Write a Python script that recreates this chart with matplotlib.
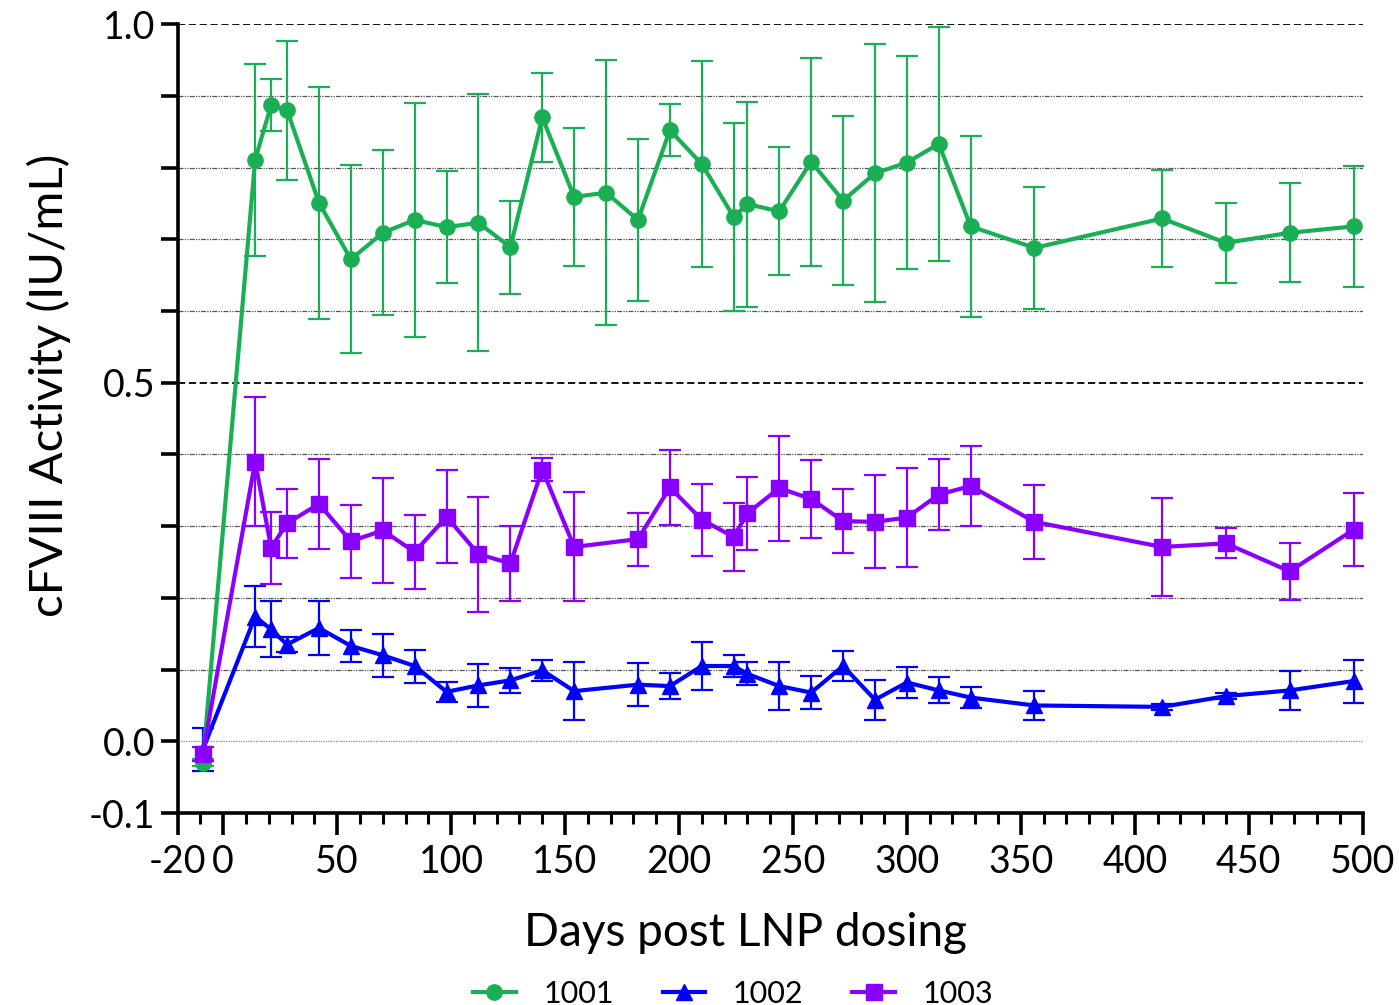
import matplotlib.pyplot as plt
from matplotlib.ticker import MultipleLocator, FixedLocator

plt.rcParams['font.family'] = ['Lato', 'DejaVu Sans']
plt.rcParams['axes.unicode_minus'] = False

# 1001 has one more visit (day 168) than the other two dogs
days_1001 = [-9, 14, 21, 28, 42, 56, 70, 84, 98, 112, 126, 140, 154, 168, 182, 196,
             210, 224, 230, 244, 258, 272, 286, 300, 314, 328, 356, 412, 440, 468, 496]
days_other = [-9, 14, 21, 28, 42, 56, 70, 84, 98, 112, 126, 140, 154, 182, 196,
              210, 224, 230, 244, 258, 272, 286, 300, 314, 328, 356, 412, 440, 468, 496]

mean_1001 = [-0.030, 0.811, 0.887, 0.880, 0.751, 0.672, 0.709, 0.727, 0.717, 0.723, 0.689,
             0.870, 0.759, 0.765, 0.727, 0.852, 0.805, 0.731, 0.749, 0.739, 0.808, 0.754,
             0.792, 0.807, 0.833, 0.718, 0.688, 0.729, 0.695, 0.709, 0.718]
sd_1001 = [0.005, 0.134, 0.036, 0.097, 0.162, 0.131, 0.115, 0.163, 0.078, 0.179, 0.065,
           0.062, 0.096, 0.185, 0.113, 0.036, 0.143, 0.131, 0.143, 0.089, 0.145, 0.118,
           0.180, 0.148, 0.163, 0.126, 0.085, 0.068, 0.056, 0.069, 0.084]

mean_1002 = [-0.012, 0.174, 0.156, 0.135, 0.158, 0.133, 0.120, 0.105, 0.069, 0.078, 0.085,
             0.099, 0.070, 0.079, 0.077, 0.105, 0.105, 0.094, 0.077, 0.068, 0.105, 0.058,
             0.082, 0.071, 0.061, 0.050, 0.048, 0.063, 0.071, 0.084]
sd_1002 = [0.030, 0.043, 0.039, 0.010, 0.038, 0.022, 0.030, 0.023, 0.014, 0.030, 0.017,
           0.015, 0.040, 0.030, 0.018, 0.034, 0.016, 0.016, 0.034, 0.023, 0.021, 0.028,
           0.021, 0.018, 0.015, 0.020, 0.004, 0.004, 0.027, 0.030]

mean_1003 = [-0.018, 0.390, 0.270, 0.304, 0.331, 0.279, 0.294, 0.264, 0.313, 0.261, 0.248,
             0.379, 0.271, 0.282, 0.354, 0.309, 0.285, 0.318, 0.353, 0.338, 0.307, 0.306,
             0.312, 0.344, 0.356, 0.306, 0.271, 0.276, 0.237, 0.295]
sd_1003 = [0.010, 0.090, 0.050, 0.048, 0.063, 0.051, 0.073, 0.051, 0.065, 0.080, 0.052,
           0.016, 0.076, 0.037, 0.052, 0.050, 0.047, 0.051, 0.073, 0.054, 0.045, 0.065,
           0.069, 0.050, 0.056, 0.052, 0.068, 0.021, 0.040, 0.051]

series = [
    ('1001', days_1001, mean_1001, sd_1001, '#1aaf54', 'o', 11),
    ('1002', days_other, mean_1002, sd_1002, '#0000ff', '^', 11),
    ('1003', days_other, mean_1003, sd_1003, '#8a00ff', 's', 11),
]

fig = plt.figure(figsize=(13.99, 10.05), dpi=100)
ax = fig.add_axes([0.127, 0.191, 0.847, 0.785])

# horizontal grid
for y in [0.1, 0.2, 0.3, 0.4, 0.6, 0.7, 0.8, 0.9]:
    ax.axhline(y, color='#555555', lw=0.9, ls=(0, (4, 1, 1, 1, 1, 1)), zorder=0)
for y in [0.5, 1.0]:
    ax.axhline(y, color='black', lw=1.3, ls=(0, (4, 2)), zorder=0)
ax.axhline(0.0, color='#888888', lw=0.9, ls=(0, (1, 1)), zorder=0)

handles = []
for name, d, m, s, col, mk, ms in series:
    ax.errorbar(d, m, yerr=s, fmt='none', ecolor=col, elinewidth=1.6,
                capsize=8, capthick=1.6, zorder=2)
    h, = ax.plot(d, m, color=col, lw=3, marker=mk, ms=ms, zorder=3, label=name)
    handles.append(h)

ax.set_xlim(-20, 500)
ax.set_ylim(-0.1, 1.0)

ax.xaxis.set_major_locator(FixedLocator([-20, 0, 50, 100, 150, 200, 250, 300, 350, 400, 450, 500]))
ax.xaxis.set_minor_locator(MultipleLocator(10))
ax.yaxis.set_major_locator(FixedLocator([-0.1, 0.0, 0.5, 1.0]))
ax.yaxis.set_minor_locator(FixedLocator([0.1, 0.2, 0.3, 0.4, 0.6, 0.7, 0.8, 0.9]))
ax.set_yticklabels(['-0.1', '0.0', '0.5', '1.0'])

ax.tick_params(axis='x', which='major', length=16, width=2.6, labelsize=27, pad=6)
ax.tick_params(axis='x', which='minor', length=8, width=2.2)
ax.tick_params(axis='y', which='both', length=12, width=2.6, labelsize=27, pad=4)

for sp in ['top', 'right']:
    ax.spines[sp].set_visible(False)
for sp in ['left', 'bottom']:
    ax.spines[sp].set_linewidth(2.6)

ax.set_xlabel('Days post LNP dosing', fontsize=33)
ax.set_ylabel('cFVIII Activity (IU/mL)', fontsize=34)
ax.xaxis.set_label_coords(0.479, -0.125)
ax.yaxis.set_label_coords(-0.09, 0.542)

fig.legend(handles=handles, labels=['1001', '1002', '1003'], loc='lower center',
           bbox_to_anchor=(0.524, -0.03), ncol=3, frameon=False, fontsize=22,
           handlelength=1.4, columnspacing=1.6, handletextpad=0.9)

fig.savefig('out.png', dpi=100)
